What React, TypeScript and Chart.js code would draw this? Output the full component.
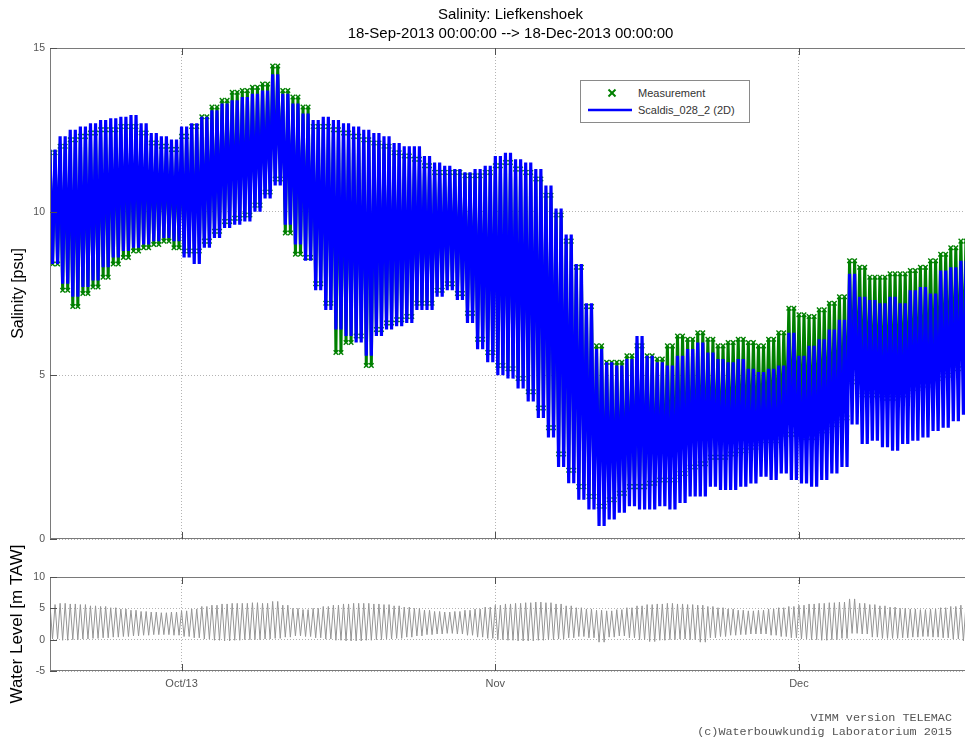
import React, { useEffect, useRef } from 'react';
import { Chart, registerables } from 'chart.js';

Chart.register(...registerables);

// Day offsets from 18-Sep-2013 00:00 (index of each array = day number)
const X_TICK_VALUES = [13, 44, 74];
const X_TICK_LABELS = ['Oct/13', 'Nov', 'Dec'];
const SAL_Y_TICKS = [0, 5, 10, 15];
const WL_Y_TICKS = [-5, 0, 5, 10];

// Daily tidal envelope of the model (Scaldis_028_2 (2D)), psu
const MODEL_HIGH = [
  11.9, 12.3, 12.5, 12.6, 12.7, 12.8, 12.85, 12.9, 12.95, 12.7,
  12.4, 12.3, 12.2, 12.6, 12.7, 12.9, 13.1, 13.3, 13.4, 13.5,
  13.6, 13.7, 14.2, 13.6, 13.3, 13.0, 12.8, 12.9, 12.8, 12.7,
  12.6, 12.5, 12.4, 12.3, 12.1, 12.0, 12.0, 11.7, 11.5, 11.4,
  11.3, 11.2, 11.3, 11.4, 11.7, 11.8, 11.6, 11.5, 11.3, 10.8,
  10.1, 9.3, 8.4, 7.2, 5.8, 5.4, 5.3, 5.5, 6.2, 5.6,
  5.4, 5.3, 5.6, 5.8, 6.0, 5.7, 5.5, 5.4, 5.5, 5.2,
  5.1, 5.2, 5.3, 6.3, 5.6, 5.9, 6.1, 6.4, 6.7, 8.1,
  7.4, 7.3, 7.2, 7.4, 7.2, 7.6, 7.7, 7.5, 8.2, 8.3, 8.5,
];
const MODEL_LOW = [
  8.4, 7.8, 7.4, 7.7, 7.9, 8.3, 8.6, 8.8, 8.9, 9.0,
  9.1, 9.2, 9.1, 8.6, 8.4, 8.9, 9.2, 9.5, 9.6, 9.7,
  10.0, 10.4, 10.8, 9.6, 9.0, 8.5, 7.6, 7.0, 6.4, 6.2,
  6.0, 5.6, 6.2, 6.4, 6.5, 6.6, 7.0, 7.0, 7.4, 7.6,
  7.3, 6.6, 5.8, 5.4, 5.0, 4.9, 4.6, 4.2, 3.7, 3.1,
  2.2, 1.7, 1.2, 0.9, 0.4, 0.6, 0.8, 1.0, 0.9, 0.9,
  1.0, 0.9, 1.1, 1.3, 1.3, 1.6, 1.5, 1.5, 1.6, 1.7,
  1.9, 1.8, 2.0, 1.8, 1.7, 1.6, 1.8, 2.0, 2.2, 3.5,
  2.9, 3.0, 2.8, 2.7, 2.9, 3.0, 3.1, 3.3, 3.4, 3.6, 3.8,
];

// Daily tidal envelope of the measurement, psu
const MEAS_HIGH = [
  11.8, 12.0, 12.2, 12.3, 12.4, 12.5, 12.5, 12.6, 12.6, 12.4,
  12.1, 12.0, 11.9, 12.3, 12.6, 12.9, 13.2, 13.4, 13.65, 13.7,
  13.8, 13.9, 14.45, 13.7, 13.5, 13.2, 12.6, 12.6, 12.5, 12.4,
  12.3, 12.2, 12.1, 12.0, 11.8, 11.7, 11.6, 11.4, 11.2, 11.2,
  11.2, 11.1, 11.1, 11.2, 11.4, 11.5, 11.3, 11.2, 11.0, 10.5,
  9.9, 9.1, 8.3, 7.1, 5.9, 5.4, 5.4, 5.6, 5.9, 5.6,
  5.5, 5.9, 6.2, 6.1, 6.3, 6.1, 5.9, 6.0, 6.1, 6.0,
  5.9, 6.1, 6.3, 7.05, 6.85, 6.8, 7.0, 7.2, 7.4, 8.5,
  8.3, 8.0, 8.0, 8.1, 8.1, 8.2, 8.3, 8.5, 8.7, 8.9, 9.1,
];
const MEAS_LOW = [
  8.4, 7.6, 7.1, 7.5, 7.7, 8.0, 8.4, 8.6, 8.8, 8.9,
  9.0, 9.1, 8.9, 8.8, 8.8, 9.1, 9.4, 9.7, 9.8, 9.9,
  10.2, 10.6, 11.0, 9.35, 8.7, 8.6, 7.8, 7.2, 5.7, 6.0,
  6.2, 5.3, 6.4, 6.6, 6.7, 6.8, 7.2, 7.2, 7.6, 7.8,
  7.5, 6.9, 6.1, 5.7, 5.3, 5.2, 4.9, 4.5, 4.0, 3.4,
  2.6, 2.1, 1.6, 1.3, 1.0, 1.2, 1.4, 1.6, 1.6, 1.7,
  1.8, 1.8, 2.0, 2.2, 2.3, 2.5, 2.5, 2.6, 2.7, 2.8,
  3.0, 3.0, 3.2, 3.2, 3.1, 3.1, 3.3, 3.5, 3.7, 4.8,
  4.4, 4.4, 4.3, 4.3, 4.4, 4.6, 4.7, 4.9, 5.0, 5.2, 5.4,
];

// Daily high / low water level, m TAW
const WL_HIGH = [
  5.6, 5.8, 5.7, 5.6, 5.4, 5.3, 5.1, 4.9, 4.7, 4.5,
  4.4, 4.3, 4.4, 4.6, 4.9, 5.3, 5.5, 5.7, 5.8, 5.8,
  5.9, 5.8, 6.1, 5.5, 5.0, 4.8, 5.0, 5.3, 5.5, 5.7,
  5.8, 5.8, 5.7, 5.6, 5.4, 5.2, 5.0, 4.7, 4.5, 4.4,
  4.5, 4.7, 4.9, 5.2, 5.5, 5.7, 5.8, 5.9, 6.0, 5.9,
  5.7, 5.4, 5.1, 4.9, 4.7, 4.6, 4.8, 5.1, 5.4, 5.6,
  5.7, 5.8, 5.7, 5.6, 5.5, 5.3, 5.1, 4.9, 4.7, 4.6,
  4.7, 4.9, 5.1, 5.3, 5.5, 5.7, 5.8, 5.9, 6.0, 6.5,
  5.8, 5.6, 5.4, 5.2, 5.0, 4.9, 4.8, 4.9, 5.1, 5.3, 5.5,
];
const WL_LOW = [
  0.1, -0.1, 0.0, 0.1, 0.2, 0.3, 0.4, 0.5, 0.6, 0.7,
  0.8, 0.8, 0.7, 0.5, 0.3, 0.1, -0.1, -0.2, -0.1, 0.0,
  0.0, 0.1, 0.2, 0.4, 0.6, 0.5, 0.3, 0.1, -0.1, -0.2,
  -0.2, -0.1, 0.0, 0.1, 0.2, 0.4, 0.6, 0.8, 0.9, 1.0,
  0.9, 0.7, 0.4, 0.2, 0.0, -0.1, -0.2, -0.2, -0.1, 0.0,
  0.1, 0.3, 0.5, 0.3, -0.4, 0.4, 0.6, 0.3, 0.0, -0.3,
  -0.1, 0.0, 0.1, 0.0, -0.4, 0.3, 0.5, 0.7, 0.8, 0.9,
  0.9, 0.7, 0.5, 0.3, 0.1, 0.0, -0.1, 0.0, 0.2, 1.0,
  0.9, 0.4, 0.2, 0.2, 0.3, 0.4, 0.5, 0.4, 0.3, 0.1, -0.2,
];

const FONT = "'Liberation Sans', Arial, Helvetica, sans-serif";
const BLUE = '#0000ff';
const GREEN = '#008000';
const GRID = '#b4b4b4';
const TICK = '#555555';
const X_MAX = 91;

// two high waters and two low waters per day
function tidal(highs: number[], lows: number[]) {
  const pts: { x: number; y: number }[] = [];
  highs.forEach((h, d) => {
    pts.push({ x: d, y: h }, { x: d + 0.25, y: lows[d] }, { x: d + 0.5, y: h }, { x: d + 0.75, y: lows[d] });
  });
  return pts;
}

const boxPlugin = {
  id: 'matlabBox',
  afterDraw(chart: any) {
    const { ctx, chartArea: a } = chart;
    ctx.save();
    ctx.strokeStyle = '#7a7a7a';
    ctx.lineWidth = 1;
    ctx.strokeRect(Math.round(a.left) + 0.5, Math.round(a.top) + 0.5, Math.round(a.right - a.left) - 1, Math.round(a.bottom - a.top) - 1);
    ctx.strokeStyle = '#505050';
    const xs = chart.scales.x;
    xs.ticks.forEach((t: any) => {
      const px = Math.round(xs.getPixelForValue(t.value)) + 0.5;
      ctx.beginPath();
      ctx.moveTo(px, a.bottom); ctx.lineTo(px, a.bottom - 7);
      ctx.moveTo(px, a.top); ctx.lineTo(px, a.top + 7);
      ctx.stroke();
    });
    const ys = chart.scales.y;
    ys.ticks.forEach((t: any) => {
      const py = Math.round(ys.getPixelForValue(t.value)) + 0.5;
      ctx.beginPath();
      ctx.moveTo(a.left, py); ctx.lineTo(a.left + 7, py);
      ctx.stroke();
    });
    ctx.restore();
  },
};

function xScale(showLabels: boolean, height: number) {
  return {
    type: 'linear',
    min: 0,
    max: X_MAX,
    afterBuildTicks: (s: any) => { s.ticks = X_TICK_VALUES.map((v) => ({ value: v })); },
    afterFit: (s: any) => { s.height = height; },
    ticks: {
      display: showLabels,
      color: TICK,
      padding: 6,
      font: { family: FONT, size: 11 },
      maxRotation: 0,
      autoSkip: false,
      callback: (v: number) => X_TICK_LABELS[X_TICK_VALUES.indexOf(v)] ?? '',
    },
    grid: { color: GRID, drawTicks: false, lineWidth: 1 },
    border: { display: false, dash: [1, 2] },
  };
}

function yScale(min: number, max: number, ticks: number[], title: string, titleSize: number, titlePad: number) {
  return {
    min,
    max,
    afterBuildTicks: (s: any) => { s.ticks = ticks.map((v) => ({ value: v })); },
    afterFit: (s: any) => { s.width = 50; },
    ticks: { color: TICK, padding: 5, font: { family: FONT, size: 10.5 } },
    grid: { color: GRID, drawTicks: false, lineWidth: 1 },
    border: { display: false, dash: [1, 2] },
    title: {
      display: true,
      text: title,
      color: '#000',
      font: { family: FONT, size: titleSize },
      padding: { top: titlePad, bottom: 0 },
    },
  };
}

export default function App() {
  const topRef = useRef<HTMLCanvasElement>(null);
  const botRef = useRef<HTMLCanvasElement>(null);

  useEffect(() => {
    const top = new Chart(topRef.current as HTMLCanvasElement, {
      type: 'line',
      data: {
        datasets: [
          {
            label: 'Measurement',
            data: tidal(MEAS_HIGH, MEAS_LOW),
            borderColor: GREEN,
            backgroundColor: GREEN,
            borderWidth: 3,
            pointStyle: 'crossRot',
            pointRadius: 3.2,
            pointBorderWidth: 1.4,
            pointBorderColor: GREEN,
            fill: false,
            tension: 0,
            order: 1,
          },
          {
            label: 'Scaldis_028_2 (2D)',
            data: tidal(MODEL_HIGH, MODEL_LOW),
            borderColor: BLUE,
            backgroundColor: BLUE,
            borderWidth: 3.2,
            pointRadius: 0,
            fill: false,
            tension: 0,
            order: 0,
          },
        ],
      } as any,
      options: {
        responsive: false,
        animation: false,
        layout: { padding: { left: 0, right: 49, top: 0, bottom: 21 } },
        plugins: {
          legend: { display: false },
          tooltip: { enabled: false },
          title: {
            display: true,
            fullSize: false,
            text: ['Salinity: Liefkenshoek', '18-Sep-2013 00:00:00 --> 18-Dec-2013 00:00:00'],
            color: '#000',
            font: { family: FONT, size: 15, weight: 'normal', lineHeight: '19px' },
            padding: { top: 5.5, bottom: 4.5 },
          },
        },
        scales: {
          x: xScale(false, 0),
          y: yScale(0, 15, SAL_Y_TICKS, 'Salinity [psu]', 16, 8.5),
        },
      } as any,
      plugins: [boxPlugin],
    });

    const bot = new Chart(botRef.current as HTMLCanvasElement, {
      type: 'line',
      data: {
        datasets: [
          {
            label: 'Water Level',
            data: tidal(WL_HIGH, WL_LOW),
            borderColor: '#959595',
            borderWidth: 1,
            pointRadius: 0,
            fill: false,
            tension: 0,
          },
        ],
      } as any,
      options: {
        responsive: false,
        animation: false,
        layout: { padding: { left: 0, right: 49, top: 37, bottom: 0 } },
        plugins: { legend: { display: false }, tooltip: { enabled: false }, title: { display: false } },
        scales: {
          x: xScale(true, 69),
          y: yScale(-5, 10, WL_Y_TICKS, 'Water Level [m TAW]', 17, 7.5),
        },
      } as any,
      plugins: [boxPlugin],
    });

    return () => {
      top.destroy();
      bot.destroy();
    };
  }, []);

  return (
    <div style={{ position: 'fixed', left: 0, top: 0, width: 965, height: 740, overflow: 'hidden', background: '#fff' }}>
      <canvas ref={topRef} width={1020} height={560} style={{ position: 'absolute', left: 0, top: 0, width: 1020, height: 560 }} />
      <canvas ref={botRef} width={1020} height={200} style={{ position: 'absolute', left: 0, top: 540, width: 1020, height: 200 }} />

      <div style={{ position: 'absolute', left: 580, top: 80, width: 168, height: 41, border: '1px solid #8a8a8a', background: '#fff', fontFamily: FONT, fontSize: 11, color: '#333' }}>
        <svg width={168} height={41} style={{ position: 'absolute', left: 0, top: 0 }}>
          <line x1={27.5} y1={8.5} x2={34.5} y2={15.5} stroke={GREEN} strokeWidth={2} />
          <line x1={34.5} y1={8.5} x2={27.5} y2={15.5} stroke={GREEN} strokeWidth={2} />
          <line x1={7} y1={29} x2={51} y2={29} stroke={BLUE} strokeWidth={2.5} />
        </svg>
        <div style={{ position: 'absolute', left: 57, top: 5, lineHeight: '14px', whiteSpace: 'nowrap' }}>Measurement</div>
        <div style={{ position: 'absolute', left: 57, top: 22, lineHeight: '14px', whiteSpace: 'nowrap' }}>Scaldis_028_2 (2D)</div>
      </div>

      <div style={{ position: 'absolute', right: 13, top: 712, fontFamily: "'Liberation Mono', 'DejaVu Sans Mono', monospace", fontSize: 11.8, lineHeight: '13.5px', color: '#555', textAlign: 'right', whiteSpace: 'pre' }}>
        {'VIMM version TELEMAC\n(c)Waterbouwkundig Laboratorium 2015'}
      </div>
    </div>
  );
}
